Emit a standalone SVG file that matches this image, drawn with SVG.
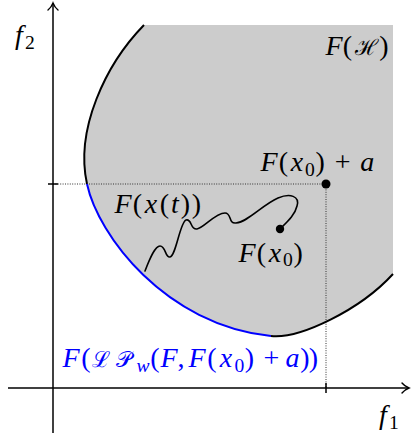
<svg xmlns="http://www.w3.org/2000/svg" width="411" height="438" viewBox="0 0 411 438">
<defs>
<marker id="arr" markerUnits="userSpaceOnUse" viewBox="-9 -7 11 14" markerWidth="11" markerHeight="14" refX="0" refY="0" orient="auto" overflow="visible">
<path d="M-7,-5 C-5,-2.5 -1.5,-0.6 0,0 C-1.5,0.6 -5,2.5 -7,5" fill="none" stroke="#000" stroke-width="1.4" stroke-linecap="round"/>
</marker>
<style>
.ax{stroke:#000;stroke-width:1.5;fill:none}
.tick{stroke:#000;stroke-width:1.5;fill:none}
.dotl{stroke:#333;stroke-width:1;stroke-dasharray:1 1.4;fill:none}
.bd{stroke-width:2;fill:none}
.lbl{font-family:"Liberation Serif","Times New Roman",serif;font-size:28px;fill:#000;text-anchor:middle}
.i{font-style:italic}
.s{font-size:19.6px}
.c{font-family:"DejaVu Serif",serif;font-size:22px}
.blue{fill:#0000ff}
</style>
</defs>
<g id="region">
<path d="M144,25 H393 V274 C360,310 300,339 271,336 C165,325 98,235 87,184 C75,130 105,65 144,25 Z" fill="#cccccc"/>
</g>
<g id="guides">
<path class="dotl" d="M53,184 H326 V388"/>
</g>
<g id="axes">
<line class="ax" x1="53" y1="433" x2="53" y2="3" marker-end="url(#arr)"/>
<line class="ax" x1="8" y1="388" x2="409" y2="388" marker-end="url(#arr)"/>
<line class="tick" x1="48" y1="184" x2="58" y2="184"/>
<line class="tick" x1="326" y1="383" x2="326" y2="393"/>
</g>
<g id="boundary">
<path class="bd" stroke="#000" d="M144,25 C105,65 75,130 87,184"/>
<path class="bd" stroke="#0000ff" d="M87,184 C98,235 165,325 271,336"/>
<path class="bd" stroke="#000" d="M271,336 C300,339 360,310 393,274"/>
</g>
<g id="trajectory">
<path fill="none" stroke="#000" stroke-width="1.6" stroke-linecap="round" d="M145,271 C150,258 155,246 160,246 C166,246 165,258 170,257 C176,256 180,222 186,220 C192,218 190,230 197,229 C204,228 215,213 225,213 C232,213 228,224 236,223 C248,222 262,205 278,198 C290,193 300,196 297,206 C295,215 287,222 280,229"/>
<circle cx="280" cy="229" r="4.2" fill="#000"/>
<circle cx="326" cy="184" r="4.5" fill="#000"/>
</g>
<g id="labels">
<text class="lbl" y="44"><tspan class="i" x="19">f</tspan><tspan class="s" x="30" y="48.5">2</tspan></text>
<text class="lbl" y="424"><tspan class="i" x="383">f</tspan><tspan class="s" x="394" y="428.5">1</tspan></text>
<text class="lbl" y="55"><tspan class="i" x="334">F</tspan><tspan x="347.5">(</tspan><tspan class="c" x="366">ℋ</tspan><tspan x="384">)</tspan></text>
<text class="lbl" y="171"><tspan class="i" x="269">F</tspan><tspan x="283.5">(</tspan><tspan class="i" x="296.9">x</tspan><tspan class="s" x="309.8" y="175.5">0</tspan><tspan x="320.2" y="171">)</tspan><tspan x="342.7">+</tspan><tspan class="i" x="367.2">a</tspan></text>
<text class="lbl" y="261.5"><tspan class="i" x="247">F</tspan><tspan x="261.5">(</tspan><tspan class="i" x="274.9">x</tspan><tspan class="s" x="287.8" y="266">0</tspan><tspan x="298.1" y="261.5">)</tspan></text>
<text class="lbl" y="213"><tspan class="i" x="123">F</tspan><tspan x="137.4">(</tspan><tspan class="i" x="150.9">x</tspan><tspan x="164.4">(</tspan><tspan class="i" x="174.9">t</tspan><tspan x="185.4">)</tspan><tspan x="196.3">)</tspan></text>
<text class="lbl blue" y="367"><tspan class="i" x="71">F</tspan><tspan x="86">(</tspan><tspan class="c" x="101">ℒ</tspan><tspan class="c" x="124">𝒫</tspan><tspan class="i s" x="143" y="371.5">w</tspan><tspan x="155" y="367">(</tspan><tspan class="i" x="169">F</tspan><tspan x="181">,</tspan><tspan class="i" x="197">F</tspan><tspan x="212">(</tspan><tspan class="i" x="226">x</tspan><tspan class="s" x="239.5" y="371.5">0</tspan><tspan x="249.5" y="367">)</tspan><tspan x="271.5">+</tspan><tspan class="i" x="292.5">a</tspan><tspan x="305">)</tspan><tspan x="313.5">)</tspan></text>
</g>
</svg>
